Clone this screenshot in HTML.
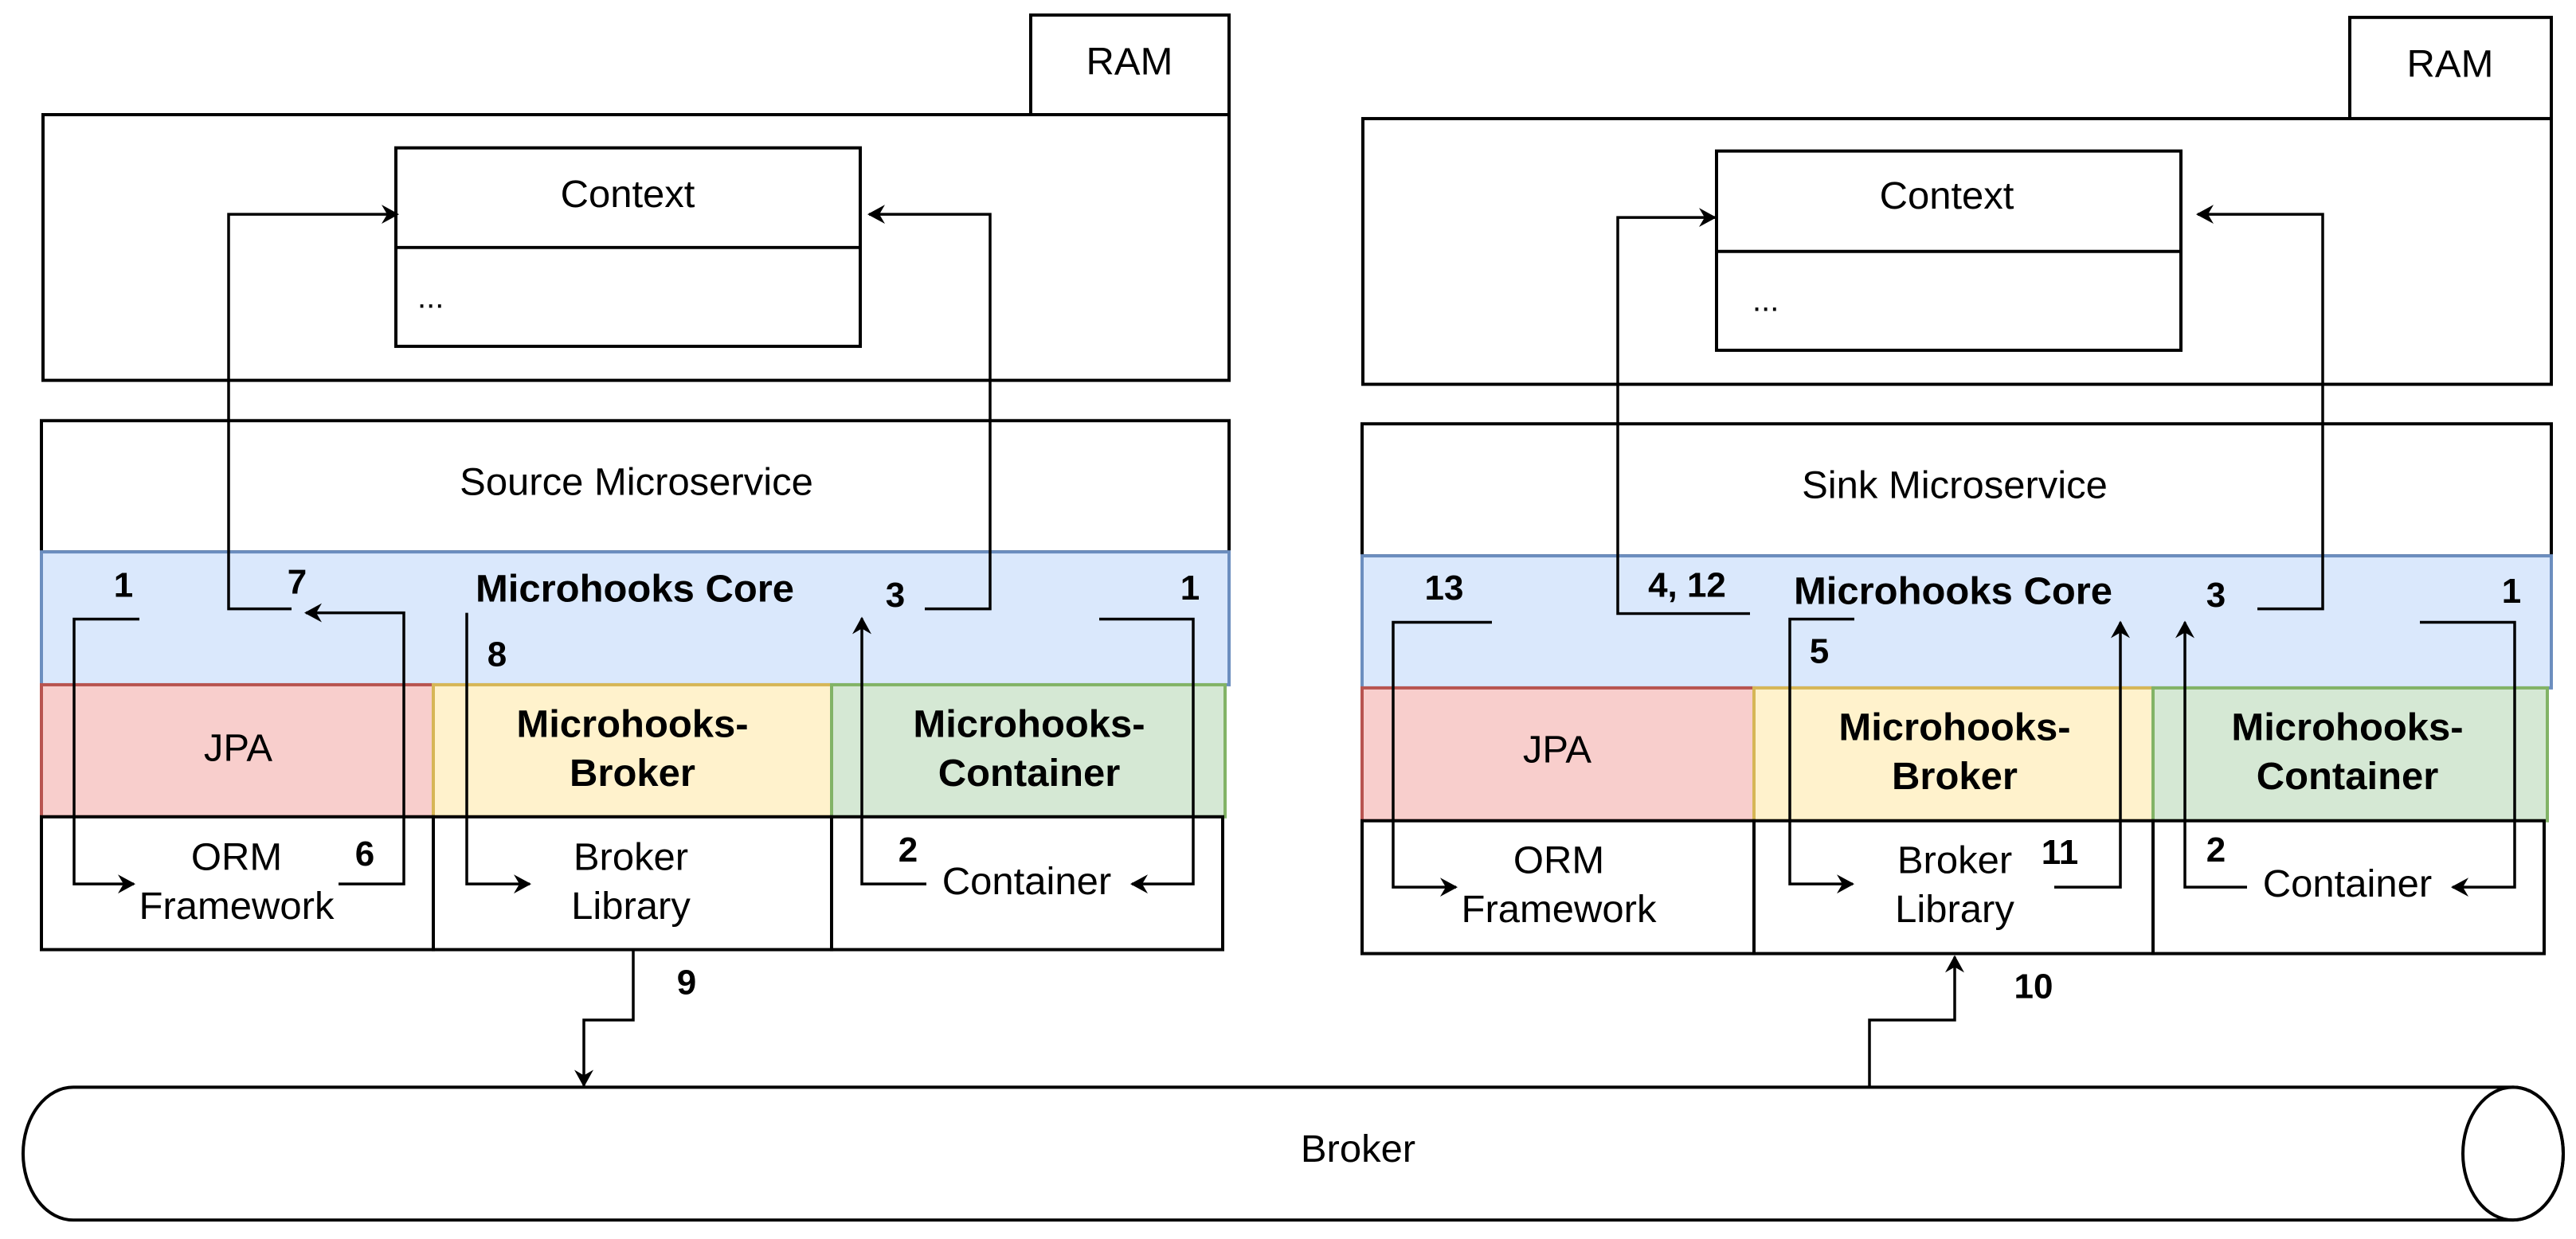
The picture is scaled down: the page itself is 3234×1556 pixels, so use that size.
<!DOCTYPE html>
<html><head><meta charset="utf-8"><style>html,body{margin:0;padding:0;background:#fff}svg{display:block}</style></head>
<body>
<svg width="3234" height="1556" viewBox="0 0 3234 1556" xmlns="http://www.w3.org/2000/svg" font-family="Liberation Sans, Arial, sans-serif">
<defs>
<marker id="a" viewBox="-20 -13 24 26" refX="0" refY="0" markerWidth="24" markerHeight="26" markerUnits="userSpaceOnUse" orient="auto">
<path d="M-20,-12 L2,0 L-20,12 L-13,0 Z" fill="#000"/>
</marker>
</defs>
<g transform="scale(1,0.993)">
<g fill="none" stroke="#000" stroke-width="4">
<rect x="1294" y="19" width="249" height="126" fill="#fff"/>
<rect x="54" y="145" width="1489" height="336" fill="#fff"/>
<rect x="497" y="187" width="583" height="251" fill="#fff"/>
<line x1="497" y1="313" x2="1080" y2="313"/>
<rect x="52" y="532" width="1491" height="166" fill="#fff"/>
<rect x="52" y="698" width="1491" height="168" fill="#dae8fc" stroke="#6c8ebf"/>
<rect x="52" y="866" width="492" height="167" fill="#f8cecc" stroke="#b85450"/>
<rect x="544" y="866" width="500" height="167" fill="#fff2cc" stroke="#d6b656"/>
<rect x="1044" y="866" width="494" height="167" fill="#d5e8d4" stroke="#82b366"/>
<rect x="52" y="1033" width="492" height="168" fill="#fff"/>
<rect x="544" y="1033" width="500" height="168" fill="#fff"/>
<rect x="1044" y="1033" width="491" height="168" fill="#fff"/>
<rect x="2950" y="22" width="253" height="128" fill="#fff"/>
<rect x="1711" y="150" width="1492" height="336" fill="#fff"/>
<rect x="2155" y="191" width="583" height="252" fill="#fff"/>
<line x1="2155" y1="318" x2="2738" y2="318"/>
<rect x="1710" y="536" width="1493" height="167" fill="#fff"/>
<rect x="1710" y="703" width="1493" height="167" fill="#dae8fc" stroke="#6c8ebf"/>
<rect x="1710" y="870" width="492" height="168" fill="#f8cecc" stroke="#b85450"/>
<rect x="2202" y="870" width="501" height="168" fill="#fff2cc" stroke="#d6b656"/>
<rect x="2703" y="870" width="495" height="168" fill="#d5e8d4" stroke="#82b366"/>
<rect x="1710" y="1038" width="492" height="168" fill="#fff"/>
<rect x="2202" y="1038" width="501" height="168" fill="#fff"/>
<rect x="2703" y="1038" width="491" height="168" fill="#fff"/>
<path d="M92,1375 L3155,1375 A63,84 0 0 1 3155,1543 L92,1543 A63,84 0 0 1 92,1375 Z" fill="#fff"/>
<ellipse cx="3155" cy="1459" rx="63" ry="84"/>
</g>
<g fill="none" stroke="#000" stroke-width="3.5" marker-end="url(#a)">
<polyline points="175,783 93,783 93,1118 168,1118"/>
<polyline points="425,1118 507,1118 507,775 384,775"/>
<polyline points="366,770 287,770 287,271 499,271"/>
<polyline points="1161,770 1243,770 1243,271 1091,271"/>
<polyline points="1380,783 1498,783 1498,1118 1421,1118"/>
<polyline points="1163,1118 1082,1118 1082,782"/>
<polyline points="586,775 586,1118 665,1118"/>
<polyline points="795,1201 795,1290 733,1290 733,1373"/>
<polyline points="1873,787 1749,787 1749,1122 1828,1122"/>
<polyline points="2197,776 2031,776 2031,275 2153,275"/>
<polyline points="2834,770 2916,770 2916,271 2759,271"/>
<polyline points="3038,787 3157,787 3157,1122 3079,1122"/>
<polyline points="2328,783 2247,783 2247,1118 2326,1118"/>
<polyline points="2579,1122 2662,1122 2662,787"/>
<polyline points="2821,1122 2743,1122 2743,787"/>
<polyline points="2347,1375 2347,1290 2454,1290 2454,1210"/>
</g>
<g font-size="49" text-anchor="middle" fill="#000" dominant-baseline="central">
<text x="1418" y="78">RAM</text>
<text x="788" y="246">Context</text>
<text x="524" y="376" text-anchor="start" font-size="40">...</text>
<text x="799" y="610">Source Microservice</text>
<text x="299" y="946">JPA</text>
<text x="297" y="1084">ORM</text><text x="297" y="1146">Framework</text>
<text x="792" y="1084">Broker</text><text x="792" y="1146">Library</text>
<text x="1289" y="1115">Container</text>
<text x="3076" y="81">RAM</text>
<text x="2444" y="248">Context</text>
<text x="2200" y="380" text-anchor="start" font-size="40">...</text>
<text x="2454" y="614">Sink Microservice</text>
<text x="1955" y="948">JPA</text>
<text x="1957" y="1088">ORM</text><text x="1957" y="1150">Framework</text>
<text x="2454" y="1088">Broker</text><text x="2454" y="1150">Library</text>
<text x="2947" y="1118">Container</text>
<text x="1705" y="1453">Broker</text>
</g>
<g font-size="49" font-weight="bold" text-anchor="middle" fill="#000" dominant-baseline="central">
<text x="797" y="745">Microhooks Core</text>
<text x="794" y="916">Microhooks-</text><text x="794" y="978">Broker</text>
<text x="1292" y="916">Microhooks-</text><text x="1292" y="978">Container</text>
<text x="2452" y="748">Microhooks Core</text>
<text x="2454" y="920">Microhooks-</text><text x="2454" y="982">Broker</text>
<text x="2947" y="920">Microhooks-</text><text x="2947" y="982">Container</text>
</g>
<g font-size="44" font-weight="bold" text-anchor="middle" fill="#000" dominant-baseline="central">
<text x="155" y="740">1</text>
<text x="373" y="736">7</text>
<text x="1124" y="753">3</text>
<text x="1494" y="744">1</text>
<text x="624" y="828">8</text>
<text x="458" y="1080">6</text>
<text x="1140" y="1075">2</text>
<text x="862" y="1243">9</text>
<text x="1813" y="744">13</text>
<text x="2118" y="740">4, 12</text>
<text x="2782" y="753">3</text>
<text x="3153" y="748">1</text>
<text x="2284" y="824">5</text>
<text x="2586" y="1078">11</text>
<text x="2782" y="1075">2</text>
<text x="2553" y="1248">10</text>
</g>
</g>
</svg>
</body></html>
